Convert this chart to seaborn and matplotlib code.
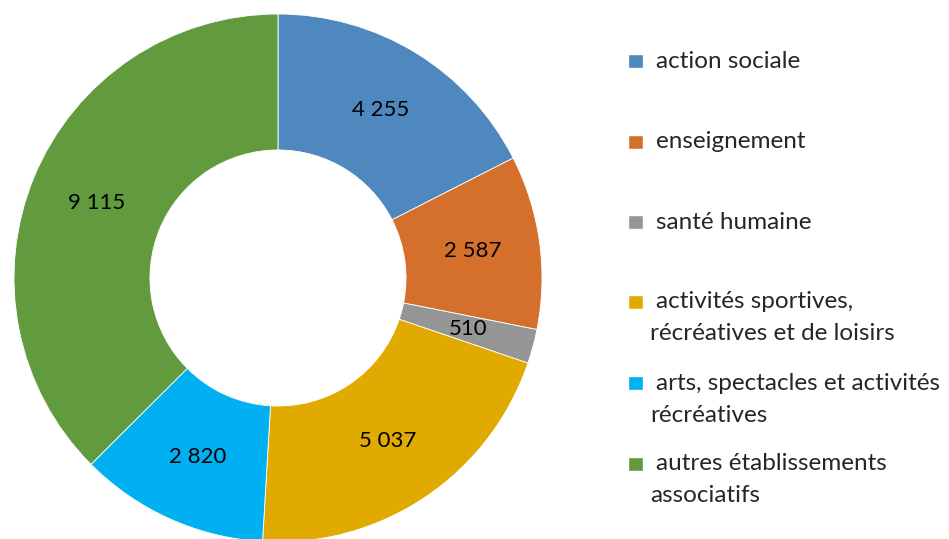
import matplotlib.pyplot as plt
import matplotlib.patches as mpatches
import seaborn as sns

categories = ['action sociale', 'enseignement', 'santé humaine',
              'activités sportives,\nrécréatives et de loisirs',
              'arts, spectacles et activités\nrécréatives',
              'autres établissements\nassociatifs']
values = [4255, 2587, 510, 5037, 2820, 9115]
colors = ['#4F88BE', '#D4702B', '#959595', '#E1AA00', '#00B0F0', '#629B3E']

sns.set_style('white')
plt.rcParams['font.family'] = ['Lato', 'DejaVu Sans']

W, H = 949, 539
fig = plt.figure(figsize=(W / 100, H / 100), dpi=100)

# donut: center (278, 278) px, outer radius 264 px
r = 264
cx, cy = 278, 278
ax = fig.add_axes([(cx - r) / W, (H - cy - r) / H, 2 * r / W, 2 * r / H])


def fmt(v):
    return f'{v:,}'.replace(',', ' ')


total = sum(values)
wedges, texts, autotexts = ax.pie(
    values, colors=sns.color_palette(colors), startangle=90, counterclock=False,
    radius=1, wedgeprops=dict(width=0.515, edgecolor='white', linewidth=0.6),
    autopct=lambda p: fmt(int(round(p * total / 100))), pctdistance=0.745,
    textprops=dict(fontsize=16, color='black'))
ax.set_aspect('equal')
ax.set_xlim(-1, 1)
ax.set_ylim(-1, 1)
ax.axis('off')

# legend
ys = [61, 142, 222, 302, 383, 464]
for lab, col, y in zip(categories, colors, ys):
    fig.patches.append(mpatches.Rectangle((628 / W, 1 - (y + 7) / H), 15 / W, 14 / H,
                                          facecolor=col, transform=fig.transFigure))
    lines = lab.split('\n')
    fig.text(656 / W, 1 - y / H, lines[0], fontsize=17.5, va='center', ha='left')
    if len(lines) > 1:
        fig.text(650 / W, 1 - (y + 32) / H, lines[1], fontsize=17.5, va='center', ha='left')

fig.savefig('out.png', dpi=100)
